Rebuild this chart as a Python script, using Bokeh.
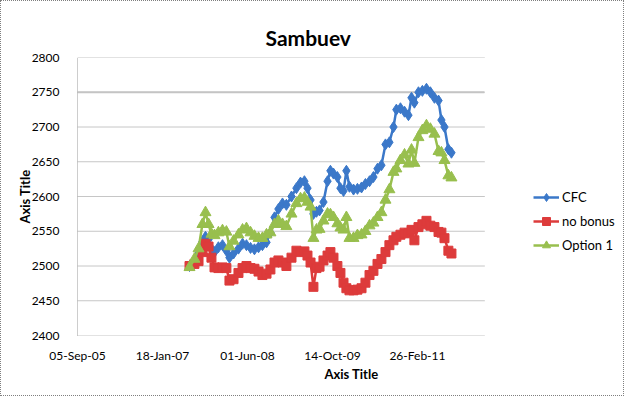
import pandas as pd
from bokeh.plotting import figure
from bokeh.models import (Range1d, FixedTicker, DatetimeTickFormatter, Legend, LegendItem)
from bokeh.embed import file_html
from bokeh.resources import INLINE

# ---- data ----
dates = [
    "2007-06-26", "2007-07-25", "2007-08-18", "2007-09-10", "2007-09-28", "2007-10-16",
    "2007-11-02", "2007-11-20", "2007-12-13", "2008-01-06", "2008-01-29", "2008-02-16",
    "2008-03-11", "2008-04-09", "2008-05-03", "2008-05-26", "2008-06-19", "2008-07-12",
    "2008-08-05", "2008-08-28", "2008-09-21", "2008-10-14", "2008-11-07", "2008-11-30",
    "2008-12-24", "2009-01-16", "2009-02-15", "2009-03-16", "2009-04-09", "2009-05-02",
    "2009-05-20", "2009-06-07", "2009-06-24", "2009-07-12", "2009-07-30", "2009-08-22",
    "2009-09-15", "2009-10-02", "2009-10-20", "2009-11-12", "2009-11-30", "2009-12-18",
    "2010-01-04", "2010-01-22", "2010-02-15", "2010-03-10", "2010-04-03", "2010-04-26",
    "2010-05-20", "2010-06-12", "2010-07-06", "2010-07-29", "2010-08-22", "2010-09-14",
    "2010-10-08", "2010-10-25", "2010-11-18", "2010-12-12", "2011-01-04", "2011-01-22",
    "2011-02-08", "2011-03-04", "2011-03-27", "2011-04-20", "2011-05-13", "2011-06-06",
    "2011-06-30", "2011-07-17", "2011-08-04", "2011-08-27", "2011-09-14",
]
cfc = [
    2500, 2505, 2518, 2535, 2542, 2538, 2525, 2520, 2527, 2530, 2522, 2512,
    2518, 2525, 2532, 2530, 2526, 2524, 2527, 2530, 2534, 2548, 2570, 2582,
    2590, 2588, 2600, 2612, 2620, 2622, 2612, 2595, 2575, 2578, 2580, 2592,
    2622, 2637, 2633, 2628, 2612, 2608, 2637, 2614, 2610, 2611, 2613, 2618,
    2622, 2628, 2640, 2645, 2675, 2678, 2700, 2725, 2727, 2722, 2717, 2742,
    2735, 2750, 2752, 2755, 2750, 2742, 2738, 2710, 2700, 2668, 2663,
]
no_bonus = [
    2500, 2503, 2507, 2520, 2532, 2528, 2512, 2498, 2497, 2498, 2497, 2479,
    2481, 2490, 2497, 2500, 2497, 2496, 2492, 2487, 2489, 2495, 2505, 2508,
    2505, 2500, 2512, 2522, 2520, 2521, 2515, 2505, 2470, 2497, 2499, 2508,
    2515, 2520, 2512, 2500, 2490, 2476, 2468, 2465, 2465, 2466, 2468, 2476,
    2487, 2493, 2503, 2510, 2520, 2530, 2537, 2542, 2545, 2548, 2547, 2552,
    2537, 2556, 2560, 2565, 2558, 2556, 2549, 2548, 2540, 2522, 2518,
]
option1 = [
    2498, 2510, 2525, 2560, 2577, 2560, 2546, 2544, 2548, 2551, 2549, 2528,
    2536, 2545, 2552, 2554, 2548, 2543, 2540, 2540, 2545, 2548, 2560, 2565,
    2560, 2557, 2575, 2590, 2597, 2598, 2592, 2585, 2540, 2552, 2553, 2565,
    2575, 2574, 2570, 2561, 2555, 2552, 2570, 2540, 2540, 2544, 2545, 2550,
    2558, 2562, 2570, 2577, 2595, 2610, 2635, 2640, 2652, 2660, 2647, 2667,
    2648, 2685, 2695, 2702, 2697, 2690, 2665, 2663, 2652, 2630, 2627,
]
series_names = ["CFC", "no bonus", "Option 1"]
tick_dates = ["2005-09-05", "2007-01-18", "2008-06-01", "2009-10-14", "2011-02-26"]
axis_start, axis_end = "2005-09-05", "2012-03-26"   # extent of the plotted axis
view_end = "2014-07-04"                              # canvas extends under the legend
y_ticks = [2400, 2450, 2500, 2550, 2600, 2650, 2700, 2750, 2800]
solid_grid = [2750]

# ---- styling ----
FONT = "Lato"
colors = ["#3b78c9", "#dd3b3b", "#98bf4e"]
markers = ["diamond", "square", "triangle"]
msizes = [11, 9, 11]

x = pd.to_datetime(dates)
ts = lambda s: pd.Timestamp(s).value / 1e6

p = figure(width=624, height=396, x_axis_type="datetime",
           x_range=Range1d(ts(axis_start), ts(view_end)), y_range=Range1d(2400, 2800),
           output_backend="svg", toolbar_location=None,
           min_border_left=76, min_border_right=0, min_border_top=56, min_border_bottom=62,
           title="Sambuev", styles={"border": "1px dotted #7f7f7f"})
p.outline_line_color = None

p.title.text_font = FONT
p.title.text_font_size = "21px"
p.title.text_font_style = "bold"
p.title.text_color = "#000000"
p.title.align = "left"
p.title.offset = 188
p.title.standoff = 16

p.xaxis.ticker = FixedTicker(ticks=[ts(t) for t in tick_dates])
p.xaxis.formatter = DatetimeTickFormatter(
    milliseconds="%d-%b-%y", seconds="%d-%b-%y", minsec="%d-%b-%y", minutes="%d-%b-%y",
    hourmin="%d-%b-%y", hours="%d-%b-%y", days="%d-%b-%y", months="%d-%b-%y", years="%d-%b-%y")
p.xaxis.bounds = (ts(axis_start), ts(axis_end))
p.yaxis.ticker = FixedTicker(ticks=y_ticks)

for ax in (p.xaxis[0], p.yaxis[0]):
    ax.axis_label = "Axis Title"
    ax.axis_label_text_font = FONT
    ax.axis_label_text_font_style = "bold"
    ax.axis_label_text_font_size = "13px"
    ax.axis_label_text_color = "#000000"
    ax.major_label_text_font = FONT
    ax.major_label_text_font_size = "12px"
    ax.major_label_text_color = "#000000"
    ax.major_tick_line_color = None
    ax.minor_tick_line_color = None
    ax.axis_line_color = "#9a9a9a"
    ax.axis_line_dash = "1 1"
p.xaxis.axis_line_color = None
p.xaxis.major_label_standoff = 6
p.xaxis.axis_label_standoff = 0
p.yaxis.major_label_standoff = 12
p.yaxis.axis_label_standoff = -4

# horizontal gridlines only across the axis extent
p.xgrid.grid_line_color = None
p.ygrid.grid_line_color = None
n = len(y_ticks)
p.segment(x0=[ts(axis_start)] * n, x1=[ts(axis_end)] * n, y0=y_ticks, y1=y_ticks,
          line_color="#8c8c8c", line_width=1, line_dash="1 1")
p.segment(x0=[ts(axis_start)], x1=[ts(axis_end)], y0=solid_grid, y1=solid_grid,
          line_color="#c4c4c4", line_width=2)

items = []
for name, vals, c, m, s in zip(series_names, [cfc, no_bonus, option1], colors, markers, msizes):
    lr = p.line(x, vals, line_color=c, line_width=2.5)
    sr = p.scatter(x, vals, marker=m, size=s, fill_color=c, line_color=c)
    items.append(LegendItem(label=name, renderers=[lr, sr]))

legend = Legend(items=items, location=(456, 80), label_text_font=FONT,
                label_text_font_size="13px", label_text_color="#000000",
                border_line_color=None,
                background_fill_alpha=0, padding=0, margin=0, spacing=4,
                glyph_width=26, glyph_height=20, label_height=20, label_standoff=3)
p.add_layout(legend)

open("out.html", "w").write(file_html(p, INLINE))
